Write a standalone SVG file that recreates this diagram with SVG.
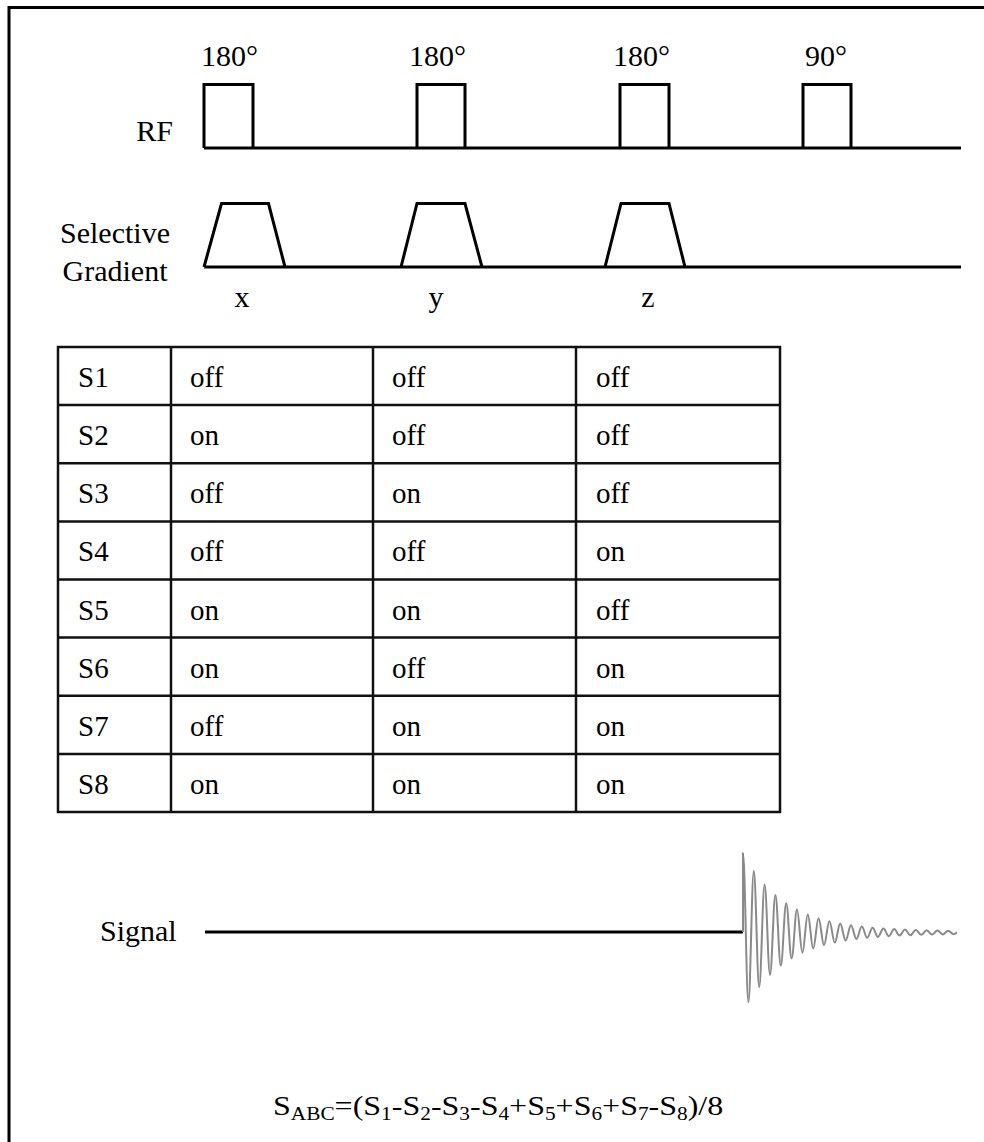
<svg xmlns="http://www.w3.org/2000/svg" width="984" height="1142" viewBox="0 0 984 1142">
<style>
text{font-family:"Liberation Serif","Times New Roman",serif;font-size:29px;fill:#000}
.lbl{font-size:30px}
.ln{fill:none;stroke:#000;stroke-width:3;stroke-linejoin:miter}
.grid{fill:none;stroke:#111;stroke-width:2.5}
.sub{font-size:18px}
</style>
<rect width="984" height="1142" fill="#fff"/>
<g id="frame">
<path class="ln" d="M9 1142 V7.5 H984"/>
</g>
<g id="rf">
<text class="lbl" x="173" y="141" text-anchor="end">RF</text>
<text class="lbl" x="201" y="66">180°</text>
<text class="lbl" x="409" y="66">180°</text>
<text class="lbl" x="613" y="66">180°</text>
<text class="lbl" x="805" y="66">90°</text>
<path class="ln" d="M204 148 V84.5 H253 V148 M417 148 V84.5 H465 V148 M620 148 V84.5 H669 V148 M803 148 V84.5 H851 V148 M204 148 H961"/>
</g>
<g id="gradient">
<text class="lbl" x="115" y="243" text-anchor="middle">Selective</text>
<text class="lbl" x="115" y="281" text-anchor="middle">Gradient</text>
<path class="ln" d="M204 267 L221.5 203.5 H268.5 L285 267 M401 267 L417 203.5 H465 L482 267 M605 267 L621 203.5 H669 L685 267 M204 267 H961"/>
<text class="lbl" x="242" y="307" text-anchor="middle">x</text>
<text class="lbl" x="436" y="307" text-anchor="middle">y</text>
<text class="lbl" x="648" y="307" text-anchor="middle">z</text>
</g>
<g id="table">
<rect class="grid" x="58" y="347" width="722" height="465"/>
<path class="grid" d="M171 347 V812 M373 347 V812 M576 347 V812 M58 405.1 H780 M58 463.25 H780 M58 521.4 H780 M58 579.5 H780 M58 637.6 H780 M58 695.75 H780 M58 753.9 H780"/>
<g id="row1"><text x="78" y="387">S1</text><text x="190" y="387">off</text><text x="392" y="387">off</text><text x="596" y="387">off</text></g>
<g id="row2"><text x="78" y="445.1">S2</text><text x="190" y="445.1">on</text><text x="392" y="445.1">off</text><text x="596" y="445.1">off</text></g>
<g id="row3"><text x="78" y="503.3">S3</text><text x="190" y="503.3">off</text><text x="392" y="503.3">on</text><text x="596" y="503.3">off</text></g>
<g id="row4"><text x="78" y="561.4">S4</text><text x="190" y="561.4">off</text><text x="392" y="561.4">off</text><text x="596" y="561.4">on</text></g>
<g id="row5"><text x="78" y="619.5">S5</text><text x="190" y="619.5">on</text><text x="392" y="619.5">on</text><text x="596" y="619.5">off</text></g>
<g id="row6"><text x="78" y="677.6">S6</text><text x="190" y="677.6">on</text><text x="392" y="677.6">off</text><text x="596" y="677.6">on</text></g>
<g id="row7"><text x="78" y="735.8">S7</text><text x="190" y="735.8">off</text><text x="392" y="735.8">on</text><text x="596" y="735.8">on</text></g>
<g id="row8"><text x="78" y="793.9">S8</text><text x="190" y="793.9">on</text><text x="392" y="793.9">on</text><text x="596" y="793.9">on</text></g>
</g>
<g id="signal">
<text class="lbl" x="100" y="941">Signal</text>
<path class="ln" d="M205 932 H743"/>
<path fill="none" stroke="#8a8a8a" stroke-width="2" d="M743 932 L743 853.3 C745 853.3 746.4 1002.3 748.4 1002.3 S751.8 870.9 753.8 870.9 S757.2 986.9 759.2 986.9 S762.6 884.5 764.6 884.5 S768 974.9 770 974.9 S773.4 895.1 775.4 895.1 S778.8 965.6 780.8 965.6 S784.2 903.3 786.2 903.3 S789.6 958.4 791.6 958.4 S795 909.6 797 909.6 S800.4 952.8 802.4 952.8 S805.8 914.5 807.8 914.5 S811.2 948.5 813.2 948.5 S816.6 918.3 818.6 918.3 S822 945.2 824 945.2 S827.4 921.2 829.4 921.2 S832.8 942.6 834.8 942.6 S838.2 923.5 840.2 923.5 S843.6 940.6 845.6 940.6 S849 925.2 851 925.2 S854.4 939 856.4 939 S859.8 926.6 861.8 926.6 S865.2 937.8 867.2 937.8 S870.6 927.7 872.6 927.7 S876 936.9 878 936.9 S881.4 928.5 883.4 928.5 S886.8 936.2 888.8 936.2 S892.2 929.1 894.2 929.1 S897.6 935.6 899.6 935.6 S903 929.6 905 929.6 S908.4 935.2 910.4 935.2 S913.8 930 915.8 930 S919.2 934.8 921.2 934.8 S924.6 930.3 926.6 930.3 S930 934.6 932 934.6 S935.4 930.5 937.4 930.5 S940.8 934.4 942.8 934.4 S946.2 930.7 948.2 930.7 S951.6 934.2 953.6 934.2 S956 932.5 957 932.5"/>
</g>
<g id="formula" transform="translate(273,1115) scale(1.185,1)">
<text x="0" y="0" style="font-size:27px">S<tspan class="sub" dy="5">ABC</tspan><tspan dy="-5">=(S</tspan><tspan class="sub" dy="5">1</tspan><tspan dy="-5">-S</tspan><tspan class="sub" dy="5">2</tspan><tspan dy="-5">-S</tspan><tspan class="sub" dy="5">3</tspan><tspan dy="-5">-S</tspan><tspan class="sub" dy="5">4</tspan><tspan dy="-5">+S</tspan><tspan class="sub" dy="5">5</tspan><tspan dy="-5">+S</tspan><tspan class="sub" dy="5">6</tspan><tspan dy="-5">+S</tspan><tspan class="sub" dy="5">7</tspan><tspan dy="-5">-S</tspan><tspan class="sub" dy="5">8</tspan><tspan dy="-5">)/8</tspan></text>
</g>
</svg>
